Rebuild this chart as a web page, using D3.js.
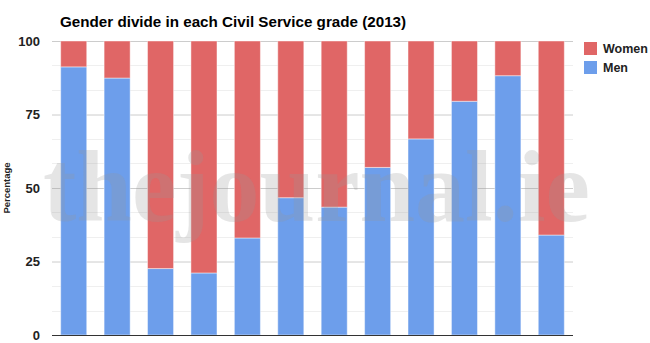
<!DOCTYPE html>
<html>
<head>
<meta charset="utf-8">
<script src="https://cdn.jsdelivr.net/npm/d3@7"></script>
<style>
  body { margin: 0; background: #fff; }
  svg { display: block; font-family: "Liberation Sans", Arial, sans-serif; }
</style>
</head>
<body>
<svg id="chart" width="650" height="343"></svg>
<script>
// Civil Service grades, lowest share of women first left to right
var grades = ["1", "2", "3", "4", "5", "6", "7", "8", "9", "10", "11", "12"];
var men = [91.2, 87.4, 22.6, 21.1, 33.0, 46.7, 43.5, 57.0, 66.7, 79.5, 88.2, 34.0];
var women = men.map(function(m) { return +(100 - m).toFixed(1); });
var yTicks = [0, 25, 50, 75, 100];
var seriesNames = ["Women", "Men"];
var seriesColors = { Women: "#e06666", Men: "#6d9eeb" };

var svg = d3.select("#chart");
var margin = { top: 41, right: 77, bottom: 8, left: 52 };
var W = 650, H = 343;

var x = d3.scaleBand()
  .domain(grades)
  .range([margin.left, W - margin.right])
  .paddingInner(0.4)
  .paddingOuter(0.2);

var y = d3.scaleLinear()
  .domain([0, 100])
  .range([H - margin.bottom, margin.top]);

/* minor gridlines, three steps between each major tick */
var minor = d3.range(0, 100, 25 / 3).filter(function(v) { return Math.abs(v % 25) > 0.1 && Math.abs(v % 25 - 25) > 0.1; });
svg.append("g").selectAll("line").data(minor).enter().append("line")
  .attr("x1", margin.left).attr("x2", W - margin.right)
  .attr("y1", function(d) { return Math.round(y(d)) + 0.5; })
  .attr("y2", function(d) { return Math.round(y(d)) + 0.5; })
  .attr("stroke", "#efefef");

var yAxis = svg.append("g")
  .attr("transform", "translate(" + margin.left + ",0)")
  .call(d3.axisLeft(y).tickValues(yTicks).tickSize(-(W - margin.left - margin.right)).tickPadding(12));
yAxis.select(".domain").remove();
yAxis.selectAll(".tick line").attr("stroke", "#cccccc");
yAxis.selectAll(".tick text")
  .attr("font-size", 13).attr("font-weight", "bold").attr("fill", "#222");

// stacked bars: men at the bottom, women on top
var stacked = d3.stack().keys(["Men", "Women"])(grades.map(function(g, i) {
  return { grade: g, Men: men[i], Women: women[i] };
}));

svg.append("g").selectAll("g").data(stacked).enter().append("g")
  .attr("fill", function(s) { return seriesColors[s.key]; })
  .selectAll("rect").data(function(s) { return s; }).enter().append("rect")
  .attr("x", function(d) { return x(d.data.grade); })
  .attr("width", x.bandwidth())
  .attr("y", function(d) { return y(d[1]); })
  .attr("height", function(d) { return y(d[0]) - y(d[1]); })
  .attr("stroke", "#fff").attr("stroke-opacity", 0.45).attr("stroke-width", 1);

// baseline
svg.append("line")
  .attr("x1", margin.left).attr("x2", W - margin.right)
  .attr("y1", y(0) + 0.5).attr("y2", y(0) + 0.5)
  .attr("stroke", "#333");

// title
svg.append("text")
  .attr("x", 60).attr("y", 27)
  .attr("font-size", 15.2).attr("font-weight", "bold").attr("fill", "#000")
  .text("Gender divide in each Civil Service grade (2013)");

// y axis title
svg.append("text")
  .attr("transform", "translate(10," + y(50) + ") rotate(-90)")
  .attr("text-anchor", "middle")
  .attr("font-size", 9.5).attr("font-weight", "bold").attr("fill", "#222")
  .text("Percentage");

// legend
var legend = svg.append("g").selectAll("g").data(seriesNames).enter().append("g")
  .attr("transform", function(d, i) { return "translate(584," + (42 + i * 19) + ")"; });
legend.append("rect").attr("width", 13).attr("height", 13)
  .attr("fill", function(d) { return seriesColors[d]; });
legend.append("text").attr("x", 19).attr("y", 11)
  .attr("font-size", 12.5).attr("font-weight", "bold").attr("fill", "#222")
  .text(function(d) { return d; });

// site watermark across the plot
svg.append("text")
  .attr("x", 43).attr("y", 221)
  .attr("textLength", 547).attr("lengthAdjust", "spacingAndGlyphs")
  .attr("font-family", "'Liberation Serif', 'DejaVu Serif', serif")
  .attr("font-size", 102).attr("font-weight", "bold")
  .attr("fill", "#999999").attr("fill-opacity", 0.25)
  .text("thejournal.ie");
</script>
</body>
</html>
